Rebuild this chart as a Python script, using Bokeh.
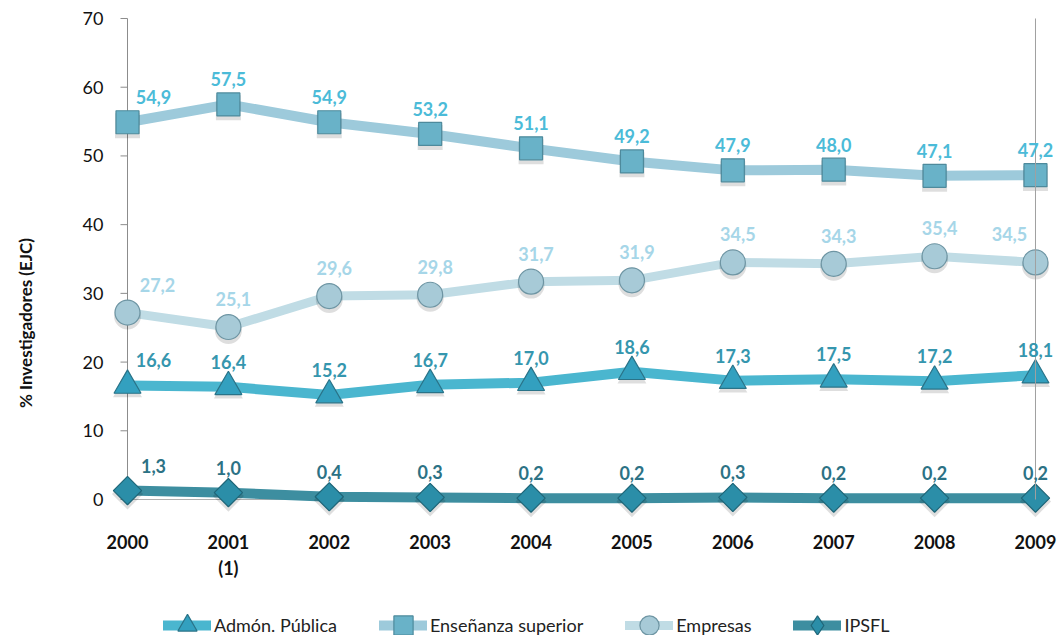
import math
from bokeh.plotting import figure
from bokeh.models import (Range1d, FixedTicker, ColumnDataSource, LabelSet,
                          Legend, LegendItem)
from bokeh.core.properties import value
from bokeh.embed import file_html
from bokeh.resources import INLINE

# ---------------- data ----------------
years = [2000, 2001, 2002, 2003, 2004, 2005, 2006, 2007, 2008, 2009]
year_labels = ["2000", "2001\n(1)", "2002", "2003", "2004", "2005", "2006", "2007", "2008", "2009"]
y_ticks = [0, 10, 20, 30, 40, 50, 60, 70]

admon = [16.6, 16.4, 15.2, 16.7, 17.0, 18.6, 17.3, 17.5, 17.2, 18.1]
ensenanza = [54.9, 57.5, 54.9, 53.2, 51.1, 49.2, 47.9, 48.0, 47.1, 47.2]
empresas = [27.2, 25.1, 29.6, 29.8, 31.7, 31.9, 34.5, 34.3, 35.4, 34.5]
ipsfl = [1.3, 1.0, 0.4, 0.3, 0.2, 0.2, 0.3, 0.2, 0.2, 0.2]

series_names = ["Admón. Pública", "Enseñanza superior", "Empresas", "IPSFL"]
y_title = "% Investigadores (EJC)"

FONT = "Lato"
AXIS_GRAY = "#8c8c8c"
SHADOW_DY = 0.5   # marker shadow drop, in axis units

# ---------------- figure ----------------
p = figure(width=1059, height=635, output_backend="svg", toolbar_location=None,
           x_range=Range1d(years[0] - 0.228, years[-1] + 0.238),
           y_range=Range1d(y_ticks[0] - 19.79, y_ticks[-1] + 1.164),
           min_border_left=104, min_border_right=0, min_border_top=10,
           min_border_bottom=0)
p.outline_line_color = None
p.xgrid.visible = False
p.ygrid.visible = False
p.background_fill_color = "white"
p.border_fill_color = "white"

# y axis (labels only; line and ticks drawn at the first year)
ya = p.yaxis[0]
ya.ticker = FixedTicker(ticks=y_ticks)
ya.bounds = (y_ticks[0], y_ticks[-1])
ya.axis_line_color = None
ya.major_tick_line_color = None
ya.minor_tick_line_color = None
ya.major_tick_out = 0
ya.major_tick_in = 0
ya.major_label_standoff = 1
ya.major_label_text_font = FONT
ya.major_label_text_font_size = "18px"
ya.major_label_text_color = "#111111"
ya.axis_label = y_title
ya.axis_label_text_font = FONT
ya.axis_label_text_font_size = "17px"
ya.axis_label_text_font_style = "bold"
ya.axis_label_text_color = "#111111"
ya.axis_label_standoff = 44

# x axis placed at y = 0 inside the frame
xa = p.xaxis[0]
xa.ticker = FixedTicker(ticks=years)
xa.major_label_overrides = {y: l for y, l in zip(years, year_labels)}
xa.fixed_location = y_ticks[0]
xa.bounds = (years[0], years[-1])
xa.axis_line_color = "#b0b0b0"
xa.major_tick_line_color = None
xa.minor_tick_line_color = None
xa.major_tick_out = 0
xa.major_tick_in = 0
xa.major_label_standoff = 31
xa.major_label_text_font = FONT
xa.major_label_text_font_size = "18px"
xa.major_label_text_font_style = "bold"
xa.major_label_text_color = "#111111"
xa.level = "underlay"

# y axis line and ticks at the first year
p.segment(x0=[years[0]], y0=[y_ticks[0]], x1=[years[0]], y1=[y_ticks[-1]],
          line_color=AXIS_GRAY, line_width=1, level="underlay")
p.ray(x=[years[0]] * len(y_ticks), y=y_ticks, length=7, length_units="screen",
      angle=math.pi, line_color=AXIS_GRAY, line_width=1, level="underlay")

# ---------------- series ----------------
def fmt(v):
    return f"{v:.1f}".replace(".", ",")

styles = [
    dict(data=admon, line="#4ab6cf", lw=10, marker="triangle", size=27, angle=0,
         fill="#33a0bf", outline="#2a7388", lab="#3596ae", yoff=25, name=series_names[0]),
    dict(data=ensenanza, line="#9dcadb", lw=10, marker="square", size=23, angle=0,
         fill="#69b2c8", outline="#4e8a9c", lab="#4bbbd8", yoff=25, name=series_names[1]),
    dict(data=empresas, line="#c0dce5", lw=9, marker="circle", size=25, angle=0,
         fill="#a7cad7", outline="#6e95a3", lab="#a6d6e8", yoff=28, name=series_names[2]),
    dict(data=ipsfl, line="#3d8ea0", lw=10, marker="square", size=20, angle=math.pi / 4,
         fill="#2b8ea8", outline="#1f6678", lab="#2c7285", yoff=25, name=series_names[3]),
]

legend_items = []
for i, st in enumerate(styles):
    n = len(years)
    xoffs = [0] * n
    xoffs[0] = 26
    if st["data"] is empresas:
        xoffs = [5] * n
        xoffs[0] = 30
        xoffs[-1] = -26
    src = ColumnDataSource(dict(x=years, y=st["data"],
                                ys=[v - SHADOW_DY for v in st["data"]],
                                txt=[fmt(v) for v in st["data"]], xo=xoffs))
    lr = p.line("x", "y", source=src, line_color=st["line"], line_width=st["lw"],
                line_join="round", line_cap="round")
    # soft drop shadow under the markers
    p.scatter("x", "ys", source=src, marker=st["marker"], size=st["size"] + 2,
              angle=st["angle"], fill_color="#000000", fill_alpha=0.13, line_color=None)
    legend_marker = None
    if st["angle"]:
        # diamond hidden under the rotated squares; used for the legend glyph
        legend_marker = p.scatter("x", "y", source=src, marker="diamond", size=st["size"] + 7,
                                  fill_color=st["fill"], line_color=st["outline"],
                                  line_width=1.2)
    mr = p.scatter("x", "y", source=src, marker=st["marker"], size=st["size"],
                   angle=st["angle"], fill_color=st["fill"], line_color=st["outline"],
                   line_width=1.2)
    ls = LabelSet(x="x", y="y", text="txt", source=src, x_offset="xo", y_offset=st["yoff"],
                  text_align="center", text_baseline="middle", text_font=value(FONT),
                  text_font_size=value("18px"), text_font_style="bold",
                  text_color=st["lab"])
    p.add_layout(ls)
    legend_items.append(LegendItem(label=st["name"],
                                   renderers=[lr, legend_marker or mr]))

# right-hand vertical line at last year (drawn over markers)
p.segment(x0=[years[-1]], y0=[y_ticks[0]], x1=[years[-1]], y1=[y_ticks[-1]],
          line_color="#a0a0a0", line_width=1)

legend = Legend(items=legend_items, orientation="horizontal", location=(59, -15),
                glyph_width=48, glyph_height=50, label_height=50, label_standoff=3,
                spacing=42, padding=0, margin=0, border_line_color=None,
                background_fill_alpha=0,
                label_text_font=FONT, label_text_font_size="18px",
                label_text_color="#222222")
p.add_layout(legend, "center")

open("out.html", "w").write(file_html(p, INLINE))
